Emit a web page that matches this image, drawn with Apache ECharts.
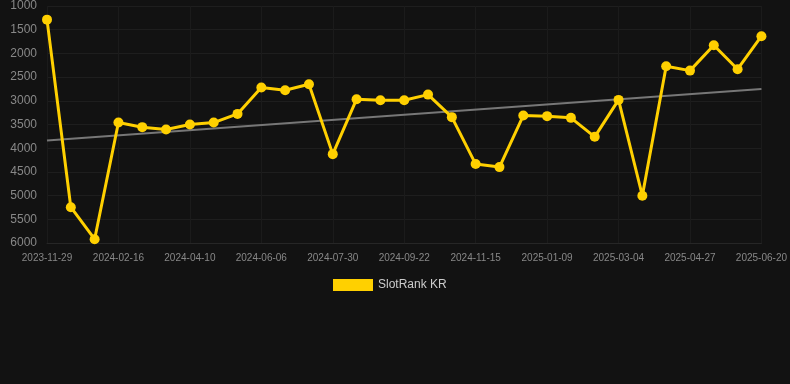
<!DOCTYPE html>
<html>
<head>
<meta charset="utf-8">
<script src="https://cdn.jsdelivr.net/npm/echarts@6/dist/echarts.min.js"></script>
<style>
html,body{margin:0;padding:0;background:#121212;}
#chart{width:790px;height:384px;}
</style>
</head>
<body>
<div id="chart"></div>
<script>
var categories = [
  '2023-11-29','2023-12-25','2024-01-21','2024-02-16','2024-03-04','2024-03-22',
  '2024-04-10','2024-04-29','2024-05-18','2024-06-06','2024-06-24','2024-07-12',
  '2024-07-30','2024-08-17','2024-09-04','2024-09-22','2024-10-10','2024-10-28',
  '2024-11-15','2024-12-03','2024-12-21','2025-01-09','2025-01-27','2025-02-14',
  '2025-03-04','2025-03-22','2025-04-09','2025-04-27','2025-05-15','2025-06-02',
  '2025-06-20'
];
var rankValues = [
  1288, 5245, 5920, 3459, 3556, 3606,
  3501, 3459, 3276, 2721, 2776, 2650,
  4125, 2966, 2987, 2987, 2869, 3345,
  4335, 4399, 3311, 3324, 3360, 3760,
  2981, 5003, 2271, 2363, 1828, 2334,
  1638
];
var trendStart = 3838;
var trendEnd = 2749;
var trendValues = categories.map(function(c, i){
  return i === 0 ? trendStart : (i === categories.length - 1 ? trendEnd : null);
});
var seriesName = 'SlotRank KR';

var chart = echarts.init(document.getElementById('chart'));
chart.setOption({
  backgroundColor: '#121212',
  animation: false,
  grid: {left: 47, right: 28, top: 6, bottom: 141, containLabel: false},
  legend: {
    data: [seriesName],
    top: 274,
    left: 328,
    itemWidth: 40,
    itemHeight: 12,
    icon: 'rect',
    textStyle: {color: '#cccccc', fontSize: 12}
  },
  xAxis: {
    type: 'category',
    data: categories,
    boundaryGap: false,
    axisLine: {show: true, lineStyle: {color: '#262626'}},
    axisTick: {show: false},
    axisLabel: {color: '#888888', fontSize: 10, interval: 2, margin: 10},
    splitLine: {show: true, interval: 2, lineStyle: {color: '#1b1b1b'}}
  },
  yAxis: {
    type: 'value',
    inverse: true,
    min: 1000,
    max: 6000,
    interval: 500,
    axisLine: {show: false},
    axisTick: {show: false},
    axisLabel: {color: '#888888', fontSize: 12, margin: 10, formatter: function(v){ return String(v); }},
    splitLine: {show: true, lineStyle: {color: '#1e1e1e'}}
  },
  series: [
    {
      name: seriesName,
      type: 'line',
      data: rankValues,
      symbol: 'circle',
      symbolSize: 10,
      lineStyle: {color: '#ffd000', width: 3},
      itemStyle: {color: '#ffd000'},
      z: 3
    },
    {
      name: 'trend',
      type: 'line',
      data: trendValues,
      connectNulls: true,
      symbol: 'none',
      lineStyle: {color: '#777777', width: 2},
      itemStyle: {color: '#777777'},
      z: 2
    }
  ]
});
</script>
</body>
</html>
